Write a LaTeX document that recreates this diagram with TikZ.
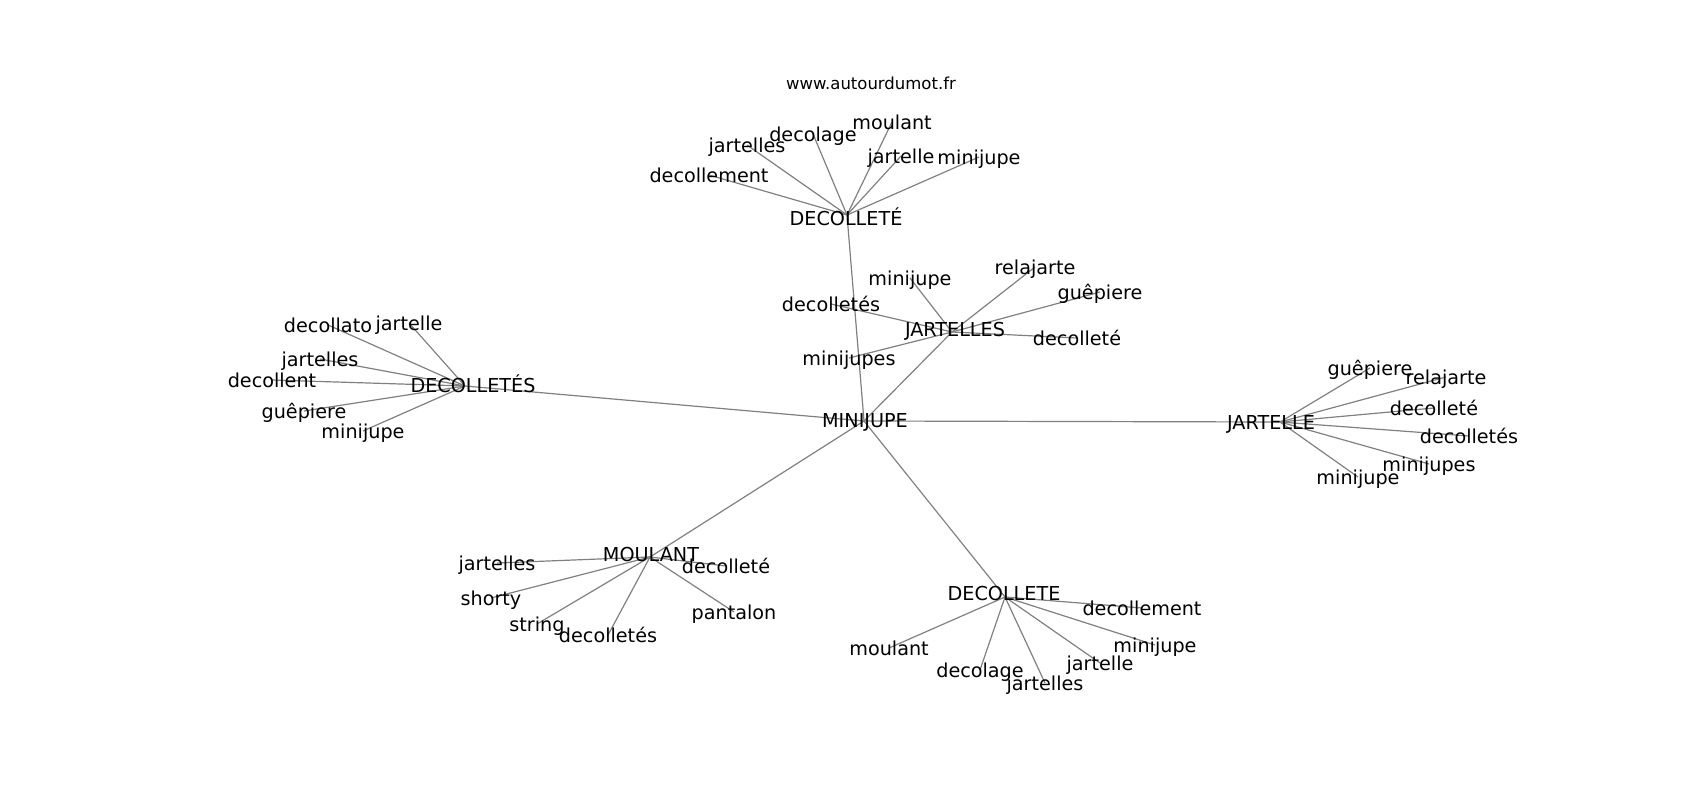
\documentclass[tikz,border=0pt]{standalone}
\usepackage{fontspec}
\setmainfont{DejaVu Sans}
\begin{document}
\begin{tikzpicture}[x=1pt,y=-1pt,
  lbl/.style={inner sep=0pt,text height=14.6pt,text depth=4.6pt,font=\fontsize{19.2}{23}\selectfont},
  leaf/.style={lbl,yshift=-2pt},
  edge/.style={draw=gray,line width=1.2pt}]
\useasboundingbox (0,0) rectangle (1700,800);
% hubs
\coordinate (MJ) at (864,421);
\coordinate (DE) at (847,215);
\coordinate (JS) at (952,332);
\coordinate (DS) at (465,386);
\coordinate (JE) at (1280,422);
\coordinate (MO) at (650,557);
\coordinate (DC) at (1005,597);
% leaves of DECOLLETÉ
\coordinate (a1) at (709,175);
\coordinate (a2) at (747,145);
\coordinate (a3) at (813,134);
\coordinate (a4) at (892,122);
\coordinate (a5) at (901,156);
\coordinate (a6) at (979,157);
% leaves of JARTELLES
\coordinate (b1) at (910,278);
\coordinate (b2) at (1035,267);
\coordinate (b3) at (1100,292);
\coordinate (b4) at (1077,338);
\coordinate (b5) at (831,304);
\coordinate (b6) at (849,358);
% leaves of DECOLLETÉS
\coordinate (c1) at (328,325);
\coordinate (c2) at (409,323);
\coordinate (c3) at (320,359);
\coordinate (c4) at (272,380);
\coordinate (c5) at (304,411);
\coordinate (c6) at (363,431);
% leaves of JARTELLE
\coordinate (d1) at (1370,368);
\coordinate (d2) at (1446,377);
\coordinate (d3) at (1434,408);
\coordinate (d4) at (1469,436);
\coordinate (d5) at (1429,464);
\coordinate (d6) at (1358,477);
% leaves of MOULANT
\coordinate (e1) at (497,563);
\coordinate (e2) at (491,598);
\coordinate (e3) at (537,624);
\coordinate (e4) at (608,635);
\coordinate (e5) at (726,566);
\coordinate (e6) at (734,612);
% leaves of DECOLLETE
\coordinate (f1) at (1142,608);
\coordinate (f2) at (1155,645);
\coordinate (f3) at (1100,663);
\coordinate (f4) at (1045,683);
\coordinate (f5) at (980,670);
\coordinate (f6) at (889,648);
% edges
\foreach \h in {DE,JS,DS,JE,MO,DC} \draw[edge] (MJ) -- (\h);
\foreach \l in {a1,a2,a3,a4,a5,a6} \draw[edge] (DE) -- (\l);
\foreach \l in {b1,b2,b3,b4,b5,b6} \draw[edge] (JS) -- (\l);
\foreach \l in {c1,c2,c3,c4,c5,c6} \draw[edge] (DS) -- (\l);
\foreach \l in {d1,d2,d3,d4,d5,d6} \draw[edge] (JE) -- (\l);
\foreach \l in {e1,e2,e3,e4,e5,e6} \draw[edge] (MO) -- (\l);
\foreach \l in {f1,f2,f3,f4,f5,f6} \draw[edge] (DC) -- (\l);
% labels
\node[font=\fontsize{16.5}{20}\selectfont,inner sep=0pt] (url) at (871,83) {www.autourdumot.fr};
\node[lbl] (tMJ) at (865,422) {MINIJUPE};
\node[lbl] (tDE) at (846,220) {DECOLLETÉ};
\node[lbl] (tJS) at (955,331) {JARTELLES};
\node[lbl] (tDS) at (473,387) {DECOLLETÉS};
\node[lbl] (tJE) at (1271,424) {JARTELLE};
\node[lbl] (tMO) at (651,556) {MOULANT};
\node[lbl] (tDC) at (1004,595) {DECOLLETE};
\node[leaf] (ta1) at (a1) {decollement};
\node[leaf] (ta2) at (a2) {jartelles};
\node[leaf] (ta3) at (a3) {decolage};
\node[leaf] (ta4) at (a4) {moulant};
\node[leaf] (ta5) at (a5) {jartelle};
\node[leaf] (ta6) at (a6) {minijupe};
\node[leaf] (tb1) at (b1) {minijupe};
\node[leaf] (tb2) at (b2) {relajarte};
\node[leaf] (tb3) at (b3) {guêpiere};
\node[leaf] (tb4) at (b4) {decolleté};
\node[leaf] (tb5) at (b5) {decolletés};
\node[leaf] (tb6) at (b6) {minijupes};
\node[leaf] (tc1) at (c1) {decollato};
\node[leaf] (tc2) at (c2) {jartelle};
\node[leaf] (tc3) at (c3) {jartelles};
\node[leaf] (tc4) at (c4) {decollent};
\node[leaf] (tc5) at (c5) {guêpiere};
\node[leaf] (tc6) at (c6) {minijupe};
\node[leaf] (td1) at (d1) {guêpiere};
\node[leaf] (td2) at (d2) {relajarte};
\node[leaf] (td3) at (d3) {decolleté};
\node[leaf] (td4) at (d4) {decolletés};
\node[leaf] (td5) at (d5) {minijupes};
\node[leaf] (td6) at (d6) {minijupe};
\node[leaf] (te1) at (e1) {jartelles};
\node[leaf] (te2) at (e2) {shorty};
\node[leaf] (te3) at (e3) {string};
\node[leaf] (te4) at (e4) {decolletés};
\node[leaf] (te5) at (e5) {decolleté};
\node[leaf] (te6) at (e6) {pantalon};
\node[leaf] (tf1) at (f1) {decollement};
\node[leaf] (tf2) at (f2) {minijupe};
\node[leaf] (tf3) at (f3) {jartelle};
\node[leaf] (tf4) at (f4) {jartelles};
\node[leaf] (tf5) at (f5) {decolage};
\node[leaf] (tf6) at (f6) {moulant};
\end{tikzpicture}
\end{document}
